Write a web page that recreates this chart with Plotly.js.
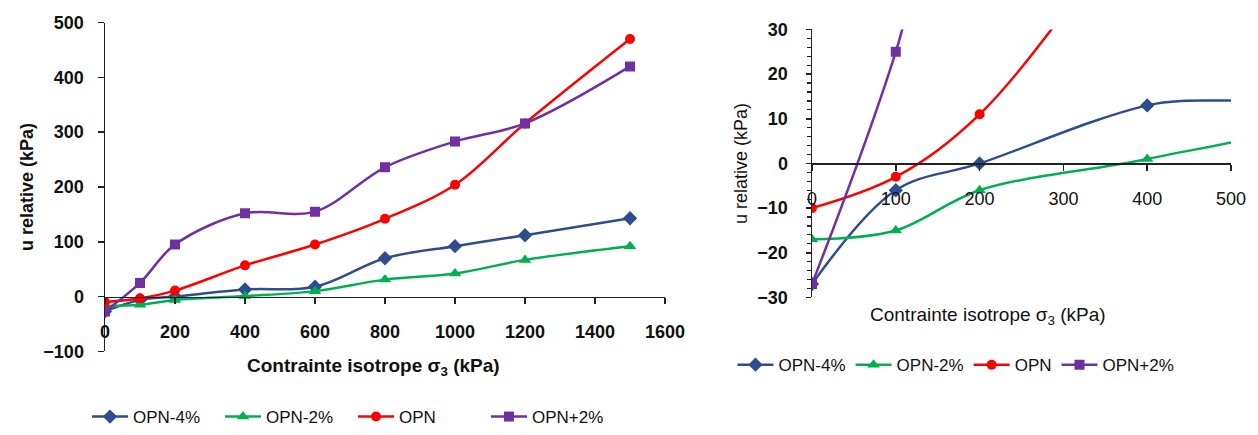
<!DOCTYPE html>
<html>
<head>
<meta charset="utf-8">
<script src="https://cdn.plot.ly/plotly-3.0.1.min.js"></script>
<style>html,body{margin:0;padding:0;background:#fff;}#chart{width:1258px;height:435px;}</style>
</head>
<body>
<div id="chart"></div>
<script>
// ---- data ----
const sigma3 = [0, 100, 200, 400, 600, 800, 1000, 1200, 1500];
const seriesNames = ["OPN-4%", "OPN-2%", "OPN", "OPN+2%"];
const opnMinus4 = [-27, -6, 0, 13, 18, 70, 92, 112, 143];
const opnMinus2 = [-17, -15, -6, 1, 10, 31, 42, 67, 92];
const opn       = [-10, -3, 11, 57, 95, 142, 204, 316, 470];
const opnPlus2  = [-27, 25, 95, 152, 155, 236, 283, 316, 420];
const leftXTicks = [0, 200, 400, 600, 800, 1000, 1200, 1400, 1600];
const leftYTicks = [-100, 0, 100, 200, 300, 400, 500];
const rightXTicks = [0, 100, 200, 300, 400, 500];
const rightYTicks = [-30, -20, -10, 0, 10, 20, 30];
const xTitle = "Contrainte isotrope σ<sub>3</sub> (kPa)";
const yTitle = "u relative (kPa)";

const values = [opnMinus4, opnMinus2, opn, opnPlus2];
const colors = ["#2E4D8E", "#00B050", "#FF0000", "#7030A0"];
const symbols = ["diamond", "triangle-up", "circle", "square"];
const msizes = [11, 11, 10, 10];

const W = 1258, H = 435;
const FONT = "Liberation Sans, Arial, sans-serif";

const traces = [];
for (let side = 0; side < 2; side++) {
  for (let i = 0; i < 4; i++) {
    traces.push({
      x: sigma3, y: values[i], name: seriesNames[i],
      type: "scatter", mode: "lines+markers",
      xaxis: side === 0 ? "x" : "x2", yaxis: side === 0 ? "y" : "y2",
      legend: side === 0 ? "legend" : "legend2",
      line: {color: colors[i], width: 2.5, shape: "spline", smoothing: 1},
      marker: {color: colors[i], symbol: symbols[i], size: msizes[i]},
      cliponaxis: true
    });
  }
}

// domains (paper fractions)
const lxd = [105 / W, 665 / W], lyd = [(H - 358) / H, (H - 23) / H];
const rxd = [812 / W, 1231 / W], ryd = [(H - 303) / H, (H - 30) / H];
const lyr = [-100, 500], ryr = [-30, 30];
const zeroPos = (d, r) => d[0] + (0 - r[0]) / (r[1] - r[0]) * (d[1] - d[0]);

const tickBold = {family: FONT, size: 18, color: "#111", weight: "bold"};
const tickReg = {family: FONT, size: 18, color: "#111"};

const layout = {
  width: W, height: H,
  margin: {l: 0, r: 0, t: 0, b: 0},
  paper_bgcolor: "#fff", plot_bgcolor: "rgba(0,0,0,0)",
  font: {family: FONT, color: "#111"},
  showlegend: true,
  xaxis: {
    domain: lxd, range: [0, 1600], tickvals: leftXTicks,
    anchor: "free", position: zeroPos(lyd, lyr),
    showgrid: false, zeroline: false, showline: true, linecolor: "#222", linewidth: 1.5,
    ticks: "outside", ticklen: 6, tickcolor: "#222", tickwidth: 1.5,
    tickfont: tickBold, ticklabelstandoff: 12
  },
  yaxis: {
    domain: lyd, range: lyr, tickvals: leftYTicks,
    showgrid: false, zeroline: false, showline: true, linecolor: "#222", linewidth: 1.5,
    ticks: "outside", ticklen: 6, tickcolor: "#222", tickwidth: 1.5,
    tickfont: tickBold, ticklabelstandoff: 10,
    title: {text: yTitle, font: {family: FONT, size: 18, weight: "bold"}, standoff: 5}
  },
  xaxis2: {
    domain: rxd, range: [0, 500], tickvals: rightXTicks,
    anchor: "free", position: zeroPos(ryd, ryr),
    showgrid: false, zeroline: false, showline: true, linecolor: "#222", linewidth: 1.5,
    ticks: "outside", ticklen: 6, tickcolor: "#222", tickwidth: 1.5,
    tickfont: tickReg, ticklabelstandoff: 12
  },
  yaxis2: {
    domain: ryd, range: ryr, tickvals: rightYTicks,
    anchor: "x2",
    showgrid: false, zeroline: false, showline: true, linecolor: "#222", linewidth: 1.5,
    ticks: "outside", ticklen: 5, tickcolor: "#222", tickwidth: 1.5,
    minor: {dtick: 2, ticks: "outside", ticklen: 4, tickcolor: "#222", tickwidth: 1.2},
    tickfont: tickBold, ticklabelstandoff: 14,
    title: {text: yTitle, font: {family: FONT, size: 18}, standoff: 5}
  },
  annotations: [
    {text: xTitle, xref: "paper", yref: "paper", x: 373 / W, y: (H - 374) / H,
     xanchor: "center", yanchor: "middle", showarrow: false,
     font: {family: FONT, size: 19, weight: "bold", color: "#111"}},
    {text: xTitle, xref: "paper", yref: "paper", x: 988 / W, y: (H - 322) / H,
     xanchor: "center", yanchor: "middle", showarrow: false,
     font: {family: FONT, size: 19, color: "#111"}}
  ],
  legend: {
    orientation: "h", x: 87 / W, xanchor: "left", y: (H - 425) / H, yanchor: "middle",
    font: {family: FONT, size: 17, color: "#111"}, itemwidth: 36, entrywidth: 82,
    bgcolor: "rgba(0,0,0,0)"
  },
  legend2: {
    orientation: "h", x: 956 / W, xanchor: "center", y: (H - 372) / H, yanchor: "middle",
    font: {family: FONT, size: 17, color: "#111"}, itemwidth: 36, bgcolor: "rgba(0,0,0,0)"
  }
};

Plotly.newPlot("chart", traces, layout, {displayModeBar: false, staticPlot: true});
</script>
</body>
</html>
